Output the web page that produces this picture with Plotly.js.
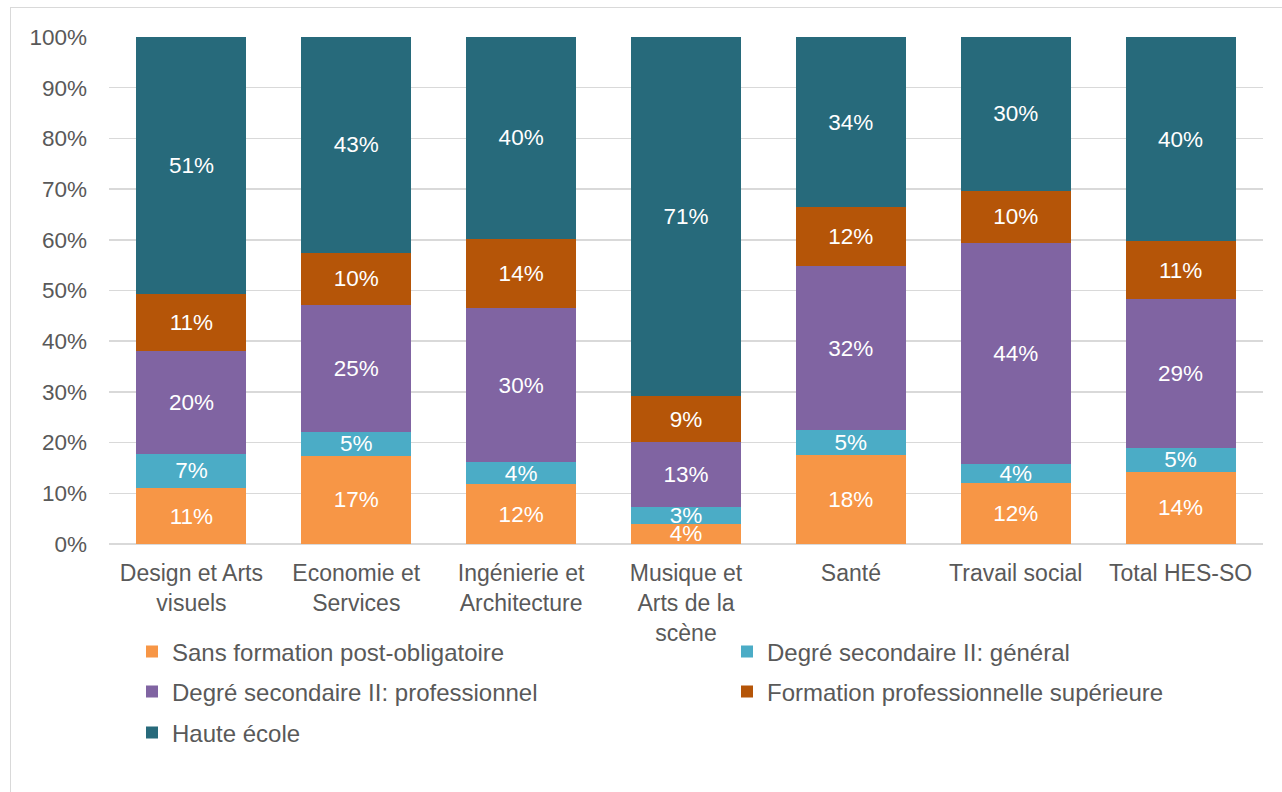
<!DOCTYPE html>
<html>
<head>
<meta charset="utf-8">
<script src="https://cdn.plot.ly/plotly-3.0.1.min.js"></script>
<style>
html, body { margin: 0; padding: 0; background: #ffffff; overflow: hidden; }
#frame { position: absolute; left: 10px; top: 7px; width: 1290px; height: 800px; border: 1px solid #d9d9d9; box-sizing: border-box; pointer-events: none; }
#chart { position: absolute; left: 0; top: 0; width: 1282px; height: 792px; }
</style>
</head>
<body>
<div id="chart"></div>
<div id="frame"></div>
<script>
// Categories (x-axis tick labels)
const categories = [
  "Design et Arts<br>visuels",
  "Economie et<br>Services",
  "Ingénierie et<br>Architecture",
  "Musique et<br>Arts de la<br>scène",
  "Santé",
  "Travail social",
  "Total HES-SO"
];

// Series names
const seriesNames = [
  "Sans formation post-obligatoire",
  "Degré secondaire II: général",
  "Degré secondaire II: professionnel",
  "Formation professionnelle supérieure",
  "Haute école"
];

// Series values (percent)
const sansFormation   = [11.0, 17.4, 11.8,  4.0, 17.6, 12.0, 14.3];
const secGeneral      = [ 6.8,  4.7,  4.4,  3.3,  4.9,  3.8,  4.6];
const secProfessionnel= [20.2, 25.1, 30.3, 12.8, 32.3, 43.6, 29.4];
const formProSup      = [11.3, 10.2, 13.7,  9.1, 11.6, 10.3, 11.4];
const hauteEcole      = [50.7, 42.6, 39.8, 70.8, 33.6, 30.3, 40.3];

const seriesValues = [sansFormation, secGeneral, secProfessionnel, formProSup, hauteEcole];
const colors = ["#F79646", "#4BACC6", "#8064A2", "#B55508", "#276A7B"];

const FONT = '"Liberation Sans", Arial, sans-serif';
const legendIds = ["legend", "legend2", "legend3", "legend4", "legend5"];

const traces = seriesValues.map((vals, i) => ({
  type: "bar",
  name: seriesNames[i],
  x: categories,
  y: vals,
  marker: { color: colors[i], line: { width: 0 } },
  texttemplate: "%{y:.0f}%",
  textposition: "inside",
  insidetextanchor: "middle",
  textangle: 0,
  constraintext: "none",
  insidetextfont: { family: FONT, size: 22.5, color: "#ffffff" },
  hoverinfo: "skip",
  legend: legendIds[i]
}));

// legend positions (container pixels)
const legendPos = [
  [141, 652], [736, 652],
  [141, 692], [736, 692],
  [141, 733]
];

const layout = {
  width: 1282,
  height: 792,
  paper_bgcolor: "#ffffff",
  plot_bgcolor: "#ffffff",
  barmode: "stack",
  bargap: 0.333,
  margin: { l: 109, r: 19, t: 37, b: 248, pad: 0 },
  font: { family: FONT, size: 22, color: "#595959" },
  xaxis: {
    type: "category",
    showgrid: false,
    showline: false,
    zeroline: false,
    ticks: "",
    ticklabelstandoff: 13,
    tickfont: { family: FONT, size: 23, color: "#595959" },
    automargin: false
  },
  yaxis: {
    range: [0, 100],
    dtick: 10,
    ticksuffix: "%",
    showgrid: true,
    gridcolor: "#d9d9d9",
    gridwidth: 1.5,
    zeroline: true,
    zerolinecolor: "#d9d9d9",
    zerolinewidth: 1.5,
    showline: false,
    ticks: "",
    ticklabelstandoff: 21,
    tickfont: { family: FONT, size: 22.5, color: "#595959" },
    automargin: false
  },
  showlegend: true
};

legendIds.forEach((id, i) => {
  layout[id] = {
    xref: "container",
    yref: "container",
    x: legendPos[i][0] / 1282,
    y: 1 - legendPos[i][1] / 792,
    xanchor: "left",
    yanchor: "middle",
    orientation: "h",
    indentation: -9,
    bgcolor: "rgba(0,0,0,0)",
    borderwidth: 0,
    font: { family: FONT, size: 24, color: "#595959" }
  };
});

Plotly.newPlot("chart", traces, layout, { displayModeBar: false, staticPlot: true });
</script>
</body>
</html>
